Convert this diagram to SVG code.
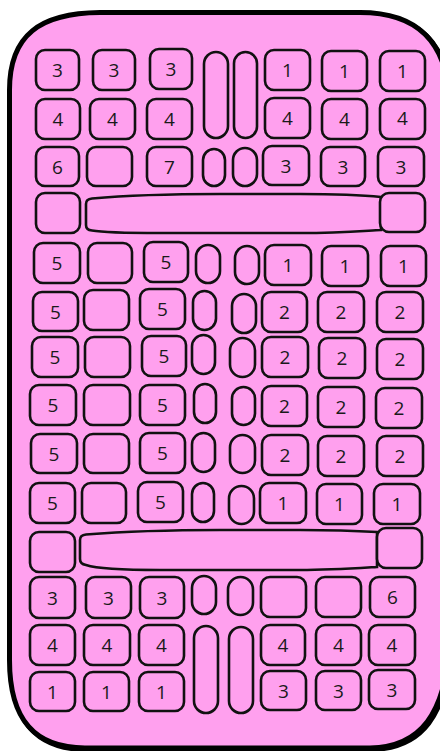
<svg xmlns="http://www.w3.org/2000/svg" width="440" height="751" viewBox="0 0 440 751">
<style>
.k{fill:#FFA0EE;stroke:#111;stroke-width:2.6}
.t{font-family:"Open Sans","DejaVu Sans",sans-serif;font-size:19px;fill:#1a1a1a;text-anchor:middle}
</style>
<rect width="440" height="751" fill="#fff"/>
<g id="case">
<path d="M 9.5 90 C 9.5 35 40 13 100 12.5 L 360 12.5 C 418 12.5 446 42 450 100 L 450 640 C 446 715 420 747 370 748 L 85 748 C 35 748 9.5 720 9.5 660 Z" fill="#000" stroke="#000" stroke-width="5" transform="translate(1.5,1.5)"/>
<path d="M 9.5 90 C 9.5 35 40 13 100 12.5 L 360 12.5 C 418 12.5 446 42 450 100 L 450 640 C 446 715 420 747 370 748 L 85 748 C 35 748 9.5 720 9.5 660 Z" fill="#FFA0EE" stroke="#000" stroke-width="5"/>
</g>
<g id="connectors"></g>
<!-- Row 1 -->
<g id="r1a"><rect class="k" x="36" y="50" width="43" height="40" rx="9"/><text class="t" x="57.5" y="77">3</text></g>
<g id="r1b"><rect class="k" x="93" y="50" width="42" height="40" rx="9"/><text class="t" x="114" y="77">3</text></g>
<g id="r1c"><rect class="k" x="150" y="49" width="42" height="40" rx="9"/><text class="t" x="171" y="76">3</text></g>
<g id="r1o1"><rect class="k" x="204" y="52" width="24" height="86" rx="12"/></g>
<g id="r1o2"><rect class="k" x="234" y="52" width="23" height="86" rx="11.5"/></g>
<g id="r1d"><rect class="k" x="265" y="50" width="45" height="40" rx="9"/><text class="t" x="287.5" y="77">1</text></g>
<g id="r1e"><rect class="k" x="322" y="51" width="45" height="40" rx="9"/><text class="t" x="344.5" y="78">1</text></g>
<g id="r1f"><rect class="k" x="380" y="51" width="45" height="40" rx="9"/><text class="t" x="402.5" y="78">1</text></g>
<!-- Row 2 -->
<g id="r2a"><rect class="k" x="36" y="99" width="44" height="40" rx="9"/><text class="t" x="58" y="126">4</text></g>
<g id="r2b"><rect class="k" x="90" y="99" width="45" height="40" rx="9"/><text class="t" x="112.5" y="126">4</text></g>
<g id="r2c"><rect class="k" x="147" y="99" width="45" height="40" rx="9"/><text class="t" x="169.5" y="126">4</text></g>
<g id="r2d"><rect class="k" x="265" y="98" width="45" height="40" rx="9"/><text class="t" x="287.5" y="125">4</text></g>
<g id="r2e"><rect class="k" x="322" y="99" width="45" height="40" rx="9"/><text class="t" x="344.5" y="126">4</text></g>
<g id="r2f"><rect class="k" x="380" y="99" width="45" height="40" rx="9"/><text class="t" x="402.5" y="125">4</text></g>
<!-- Row 3 -->
<g id="r3a"><rect class="k" x="36" y="147" width="43" height="39" rx="9"/><text class="t" x="57.5" y="173.5">6</text></g>
<g id="r3b"><rect class="k" x="87" y="147" width="45" height="39" rx="9"/></g>
<g id="r3c"><rect class="k" x="147" y="147" width="45" height="39" rx="9"/><text class="t" x="169.5" y="173.5">7</text></g>
<g id="r3o1"><rect class="k" x="203" y="149" width="22" height="37" rx="11"/></g>
<g id="r3o2"><rect class="k" x="233" y="148" width="24" height="38" rx="12"/></g>
<g id="r3d"><rect class="k" x="263" y="146" width="46" height="39" rx="9"/><text class="t" x="286" y="172.5">3</text></g>
<g id="r3e"><rect class="k" x="321" y="147" width="44" height="39" rx="9"/><text class="t" x="343" y="173.5">3</text></g>
<g id="r3f"><rect class="k" x="378" y="147" width="46" height="39" rx="9"/><text class="t" x="401" y="173.5">3</text></g>
<!-- Row 4 -->
<g id="r4bar"><path class="k" d="M 86 204 Q 86 199 92 198.5 C 130 195 170 194 220 194 L 300 194 C 340 194 362 195 381 197 L 381 230 C 362 231 340 233 300 233 L 160 233 C 120 233 100 232 92 230.5 Q 86 230 86 225 Z"/></g>
<g id="r4a"><rect class="k" x="36" y="193" width="44" height="40" rx="9"/></g>
<g id="r4b"><rect class="k" x="380" y="193" width="45" height="39" rx="9"/></g>
<!-- Row 5 -->
<g id="r5a"><rect class="k" x="34" y="243" width="46" height="40" rx="9"/><text class="t" x="57" y="270">5</text></g>
<g id="r5b"><rect class="k" x="88" y="243" width="44" height="40" rx="9"/></g>
<g id="r5c"><rect class="k" x="144" y="242" width="44" height="40" rx="9"/><text class="t" x="166" y="269">5</text></g>
<g id="r5o1"><rect class="k" x="196" y="245" width="24" height="38" rx="12"/></g>
<g id="r5o2"><rect class="k" x="235" y="246" width="24" height="38" rx="12"/></g>
<g id="r5d"><rect class="k" x="265" y="245" width="46" height="40" rx="9"/><text class="t" x="288" y="272">1</text></g>
<g id="r5e"><rect class="k" x="322" y="246" width="46" height="40" rx="9"/><text class="t" x="345" y="273">1</text></g>
<g id="r5f"><rect class="k" x="381" y="246" width="45" height="40" rx="9"/><text class="t" x="403.5" y="273">1</text></g>
<!-- Row 6 -->
<g id="r6a"><rect class="k" x="33" y="292" width="45" height="39" rx="9"/><text class="t" x="55.5" y="318.5">5</text></g>
<g id="r6b"><rect class="k" x="84" y="290" width="45" height="40" rx="9"/></g>
<g id="r6c"><rect class="k" x="140" y="289" width="45" height="40" rx="9"/><text class="t" x="162.5" y="316">5</text></g>
<g id="r6o1"><rect class="k" x="193" y="291" width="23" height="39" rx="11.5"/></g>
<g id="r6o2"><rect class="k" x="232" y="294" width="24" height="39" rx="12"/></g>
<g id="r6d"><rect class="k" x="262" y="292" width="45" height="40" rx="9"/><text class="t" x="284.5" y="319">2</text></g>
<g id="r6e"><rect class="k" x="318" y="292" width="46" height="40" rx="9"/><text class="t" x="341" y="319">2</text></g>
<g id="r6f"><rect class="k" x="377" y="292" width="46" height="40" rx="9"/><text class="t" x="400" y="319">2</text></g>
<!-- Row 7 -->
<g id="r7a"><rect class="k" x="32" y="337" width="46" height="40" rx="9"/><text class="t" x="55" y="364">5</text></g>
<g id="r7b"><rect class="k" x="85" y="337" width="45" height="40" rx="9"/></g>
<g id="r7c"><rect class="k" x="142" y="336" width="44" height="40" rx="9"/><text class="t" x="164" y="363">5</text></g>
<g id="r7o1"><rect class="k" x="192" y="335" width="23" height="39" rx="11.5"/></g>
<g id="r7o2"><rect class="k" x="230" y="338" width="25" height="39" rx="12.5"/></g>
<g id="r7d"><rect class="k" x="262" y="337" width="46" height="40" rx="9"/><text class="t" x="285" y="364">2</text></g>
<g id="r7e"><rect class="k" x="319" y="338" width="46" height="40" rx="9"/><text class="t" x="342" y="365">2</text></g>
<g id="r7f"><rect class="k" x="377" y="339" width="46" height="40" rx="9"/><text class="t" x="400" y="366">2</text></g>
<!-- Row 8 -->
<g id="r8a"><rect class="k" x="30" y="385" width="46" height="40" rx="9"/><text class="t" x="53" y="412">5</text></g>
<g id="r8b"><rect class="k" x="84" y="385" width="46" height="40" rx="9"/></g>
<g id="r8c"><rect class="k" x="140" y="385" width="45" height="40" rx="9"/><text class="t" x="162.5" y="412">5</text></g>
<g id="r8o1"><rect class="k" x="194" y="384" width="22" height="39" rx="11"/></g>
<g id="r8o2"><rect class="k" x="232" y="387" width="23" height="38" rx="11.5"/></g>
<g id="r8d"><rect class="k" x="262" y="386" width="45" height="40" rx="9"/><text class="t" x="284.5" y="413">2</text></g>
<g id="r8e"><rect class="k" x="318" y="387" width="46" height="40" rx="9"/><text class="t" x="341" y="414">2</text></g>
<g id="r8f"><rect class="k" x="376" y="388" width="46" height="40" rx="9"/><text class="t" x="399" y="415">2</text></g>
<!-- Row 9 -->
<g id="r9a"><rect class="k" x="31" y="434" width="46" height="39" rx="9"/><text class="t" x="54" y="460.5">5</text></g>
<g id="r9b"><rect class="k" x="84" y="434" width="45" height="39" rx="9"/></g>
<g id="r9c"><rect class="k" x="140" y="433" width="45" height="40" rx="9"/><text class="t" x="162.5" y="460">5</text></g>
<g id="r9o1"><rect class="k" x="192" y="433" width="23" height="39" rx="11.5"/></g>
<g id="r9o2"><rect class="k" x="230" y="435" width="25" height="38" rx="12.5"/></g>
<g id="r9d"><rect class="k" x="262" y="435" width="46" height="40" rx="9"/><text class="t" x="285" y="462">2</text></g>
<g id="r9e"><rect class="k" x="318" y="436" width="46" height="40" rx="9"/><text class="t" x="341" y="463">2</text></g>
<g id="r9f"><rect class="k" x="377" y="436" width="46" height="40" rx="9"/><text class="t" x="400" y="463">2</text></g>
<!-- Row 10 -->
<g id="r10a"><rect class="k" x="30" y="483" width="45" height="40" rx="9"/><text class="t" x="52.5" y="510">5</text></g>
<g id="r10b"><rect class="k" x="82" y="483" width="44" height="40" rx="9"/></g>
<g id="r10c"><rect class="k" x="138" y="482" width="45" height="40" rx="9"/><text class="t" x="160.5" y="509">5</text></g>
<g id="r10o1"><rect class="k" x="192" y="483" width="22" height="39" rx="11"/></g>
<g id="r10o2"><rect class="k" x="229" y="486" width="25" height="38" rx="12.5"/></g>
<g id="r10d"><rect class="k" x="260" y="483" width="46" height="40" rx="9"/><text class="t" x="283" y="510">1</text></g>
<g id="r10e"><rect class="k" x="317" y="484" width="45" height="40" rx="9"/><text class="t" x="339.5" y="511">1</text></g>
<g id="r10f"><rect class="k" x="374" y="484" width="46" height="40" rx="9"/><text class="t" x="397" y="511">1</text></g>
<!-- Row 11 -->
<g id="r11bar"><path class="k" d="M 80 540 Q 80 535 86 534.5 C 130 531 170 530 220 530 L 300 530 C 340 530 360 531 377 532 L 377 567 C 360 568 330 570 300 570 L 160 570 C 120 570 95 568 86 565 Q 80 564 80 559 Z"/></g>
<g id="r11a"><rect class="k" x="30" y="532" width="45" height="40" rx="9"/></g>
<g id="r11b"><rect class="k" x="377" y="528" width="45" height="40" rx="9"/></g>
<!-- Row 12 -->
<g id="r12a"><rect class="k" x="30" y="577" width="45" height="41" rx="9"/><text class="t" x="52.5" y="604.5">3</text></g>
<g id="r12b"><rect class="k" x="86" y="577" width="45" height="41" rx="9"/><text class="t" x="108.5" y="604.5">3</text></g>
<g id="r12c"><rect class="k" x="140" y="577" width="44" height="41" rx="9"/><text class="t" x="162" y="604.5">3</text></g>
<g id="r12o1"><rect class="k" x="192" y="576" width="24" height="38" rx="12"/></g>
<g id="r12o2"><rect class="k" x="228" y="577" width="25" height="38" rx="12.5"/></g>
<g id="r12d"><rect class="k" x="261" y="577" width="45" height="40" rx="9"/></g>
<g id="r12e"><rect class="k" x="316" y="577" width="45" height="40" rx="9"/></g>
<g id="r12f"><rect class="k" x="370" y="577" width="45" height="40" rx="9"/><text class="t" x="392.5" y="604">6</text></g>
<!-- Row 13 -->
<g id="r13a"><rect class="k" x="30" y="625" width="45" height="40" rx="9"/><text class="t" x="52.5" y="652">4</text></g>
<g id="r13b"><rect class="k" x="84" y="625" width="46" height="40" rx="9"/><text class="t" x="107" y="652">4</text></g>
<g id="r13c"><rect class="k" x="139" y="625" width="45" height="40" rx="9"/><text class="t" x="161.5" y="652">4</text></g>
<g id="r13o1"><rect class="k" x="194" y="626" width="24" height="87" rx="12"/></g>
<g id="r13o2"><rect class="k" x="229" y="627" width="24" height="86" rx="12"/></g>
<g id="r13d"><rect class="k" x="261" y="625" width="44" height="40" rx="9"/><text class="t" x="283" y="652">4</text></g>
<g id="r13e"><rect class="k" x="316" y="625" width="45" height="40" rx="9"/><text class="t" x="338.5" y="652">4</text></g>
<g id="r13f"><rect class="k" x="369" y="625" width="46" height="40" rx="9"/><text class="t" x="392" y="652">4</text></g>
<!-- Row 14 -->
<g id="r14a"><rect class="k" x="30" y="672" width="45" height="39" rx="9"/><text class="t" x="52.5" y="698.5">1</text></g>
<g id="r14b"><rect class="k" x="84" y="672" width="45" height="39" rx="9"/><text class="t" x="106.5" y="698.5">1</text></g>
<g id="r14c"><rect class="k" x="139" y="672" width="45" height="39" rx="9"/><text class="t" x="161.5" y="698.5">1</text></g>
<g id="r14d"><rect class="k" x="261" y="671" width="45" height="39" rx="9"/><text class="t" x="283.5" y="697.5">3</text></g>
<g id="r14e"><rect class="k" x="316" y="671" width="45" height="39" rx="9"/><text class="t" x="338.5" y="697.5">3</text></g>
<g id="r14f"><rect class="k" x="369" y="670" width="46" height="39" rx="9"/><text class="t" x="392" y="696.5">3</text></g>
</svg>
